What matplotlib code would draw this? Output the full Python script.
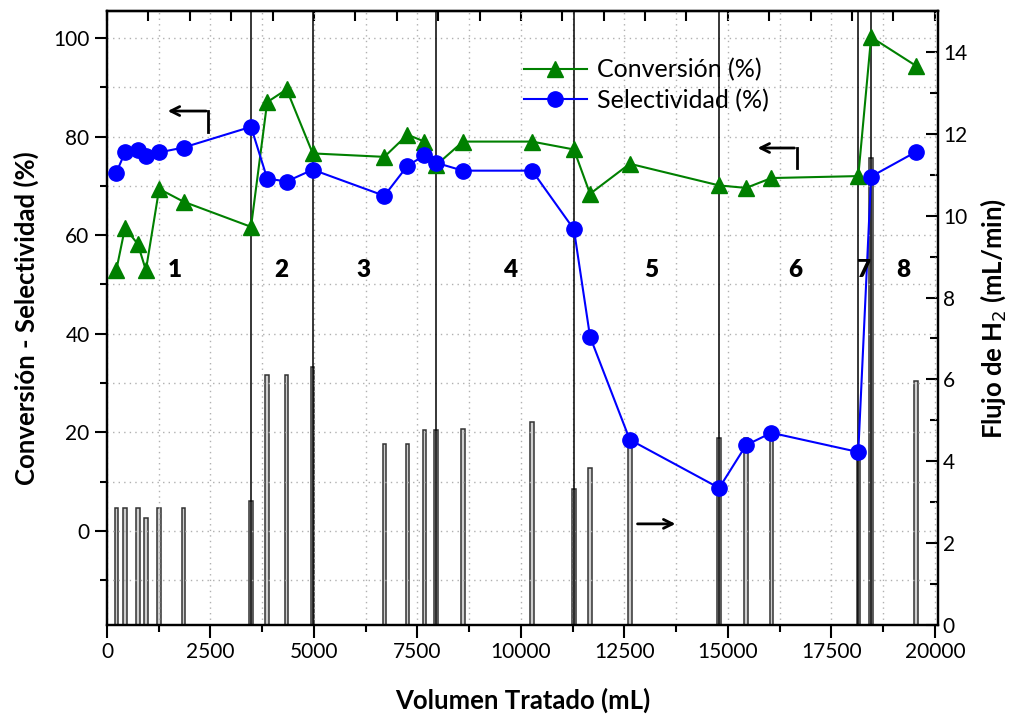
import matplotlib
matplotlib.use('Agg')
import matplotlib.pyplot as plt
from matplotlib.ticker import MultipleLocator

plt.rcParams['font.family'] = ['Lato', 'DejaVu Sans']

# Volumen tratado (mL) de cada medida
volumen = [225, 435, 745, 940, 1260, 1850, 3480, 3870, 4340, 4970, 6700, 7260, 7670,
           7950, 8600, 10270, 11280, 11670, 12630, 14790, 15440, 16050, 18150, 18460, 19540]
# Conversion (%)
conversion = [52.9, 61.5, 58.2, 52.9, 69.4, 66.8, 61.7, 87.0, 89.6, 76.6, 75.9, 80.4, 79.0,
              74.2, 79.0, 79.0, 77.4, 68.4, 74.5, 70.1, 69.6, 71.6, 72.0, 100.2, 94.4]
# Selectividad (%)
selectividad = [72.7, 76.8, 77.3, 76.1, 76.8, 77.8, 82.0, 71.5, 70.9, 73.3, 68.0, 74.1, 76.2,
                74.7, 73.1, 73.1, 61.2, 39.4, 18.5, 8.7, 17.4, 19.9, 16.0, 71.9, 76.9]
# Flujo de H2 (mL/min)
flujo = [2.85, 2.85, 2.85, 2.62, 2.87, 2.85, 3.04, 6.11, 6.11, 6.30, 4.42, 4.42, 4.76,
         4.76, 4.78, 4.97, 3.33, 3.83, 4.60, 4.57, 4.56, 4.66, 4.25, 11.41, 5.96]

# limites entre etapas y etiquetas de etapa
limites = [3480, 4970, 7950, 11280, 14790, 18150, 18460]
etapas = ['1', '2', '3', '4', '5', '6', '7', '8']
etapas_x = [1640, 4200, 6190, 9730, 13140, 16620, 18300, 19230]
etapas_y = 53

fig = plt.figure(figsize=(10.15, 7.15), dpi=100)
ax = fig.add_axes([0.1054, 0.1259, 0.8187, 0.8587])
ax2 = ax.twinx()
ax.set_zorder(ax2.get_zorder() + 1)
ax.patch.set_visible(False)

# barras de flujo (eje derecho)
ax2.bar(volumen, flujo, width=85, color='#cfcfcf', edgecolor='#333333', linewidth=1.1)
ax2.set_ylim(0, 15)
ax2.yaxis.set_major_locator(MultipleLocator(2))
ax2.yaxis.set_minor_locator(MultipleLocator(1))
ax2.tick_params(which='major', direction='in', length=9, width=1.5, labelsize=15)
ax2.tick_params(which='minor', direction='in', length=6, width=1.5)
ax2.set_ylabel('Flujo de H$_2$ (mL/min)', fontsize=18.5, fontweight='bold', labelpad=8)

# grid
ax.grid(which='both', ls=(0, (1, 3)), color='#b0b0b0', lw=1)

for xb in limites:
    ax.axvline(xb, color='black', lw=1.1, zorder=2)

ax.plot(volumen, conversion, '-^', color='green', ms=12, lw=1.5, label='Conversión (%)', zorder=4)
ax.plot(volumen, selectividad, '-o', color='blue', ms=11, lw=1.5, label='Selectividad (%)', zorder=5)

for t, xe in zip(etapas, etapas_x):
    ax.text(xe, etapas_y, t, fontsize=17.5, fontweight='heavy', ha='center', va='center', zorder=6)

# flechas
flecha = dict(arrowstyle='->', color='black', lw=2, mutation_scale=16)
ax.plot([2447, 2447], [81.0, 85.2], color='black', lw=2)
ax.annotate('', xy=(1400, 85.2), xytext=(2462, 85.2), arrowprops=flecha)
ax.plot([16660, 16660], [73.6, 77.7], color='black', lw=2)
ax.annotate('', xy=(15650, 77.7), xytext=(16675, 77.7), arrowprops=flecha)
ax2.annotate('', xy=(13800, 2.47), xytext=(12750, 2.47), arrowprops=flecha)

ax.set_xlim(0, 20075)
ax.set_ylim(-19.1, 105.5)
ax.xaxis.set_major_locator(MultipleLocator(2500))
ax.xaxis.set_minor_locator(MultipleLocator(1250))
ax.yaxis.set_major_locator(MultipleLocator(20))
ax.yaxis.set_minor_locator(MultipleLocator(10))
ax.tick_params(which='major', direction='out', length=9, width=1.5, labelsize=15)
ax.tick_params(which='minor', direction='out', length=5, width=1.5)

top = ax.secondary_xaxis('top')
top.xaxis.set_major_locator(MultipleLocator(2000))
top.xaxis.set_minor_locator(MultipleLocator(1000))
top.tick_params(which='major', direction='in', length=7, width=1.5, labeltop=False)
top.tick_params(which='minor', direction='in', length=7, width=1.5)

for a in (ax, ax2):
    for s in a.spines.values():
        s.set_linewidth(1.6)
top.spines['top'].set_linewidth(1.6)

ax.set_xlabel('Volumen Tratado (mL)', fontsize=18.5, fontweight='bold', labelpad=18)
ax.set_ylabel('Conversión - Selectividad (%)', fontsize=18.5, fontweight='bold', labelpad=10)

ax.legend(loc='upper left', bbox_to_anchor=(0.475, 0.96), frameon=False, fontsize=18,
          handlelength=2.5, handletextpad=0.4, labelspacing=0.3)

plt.savefig('out.png', dpi=100)
